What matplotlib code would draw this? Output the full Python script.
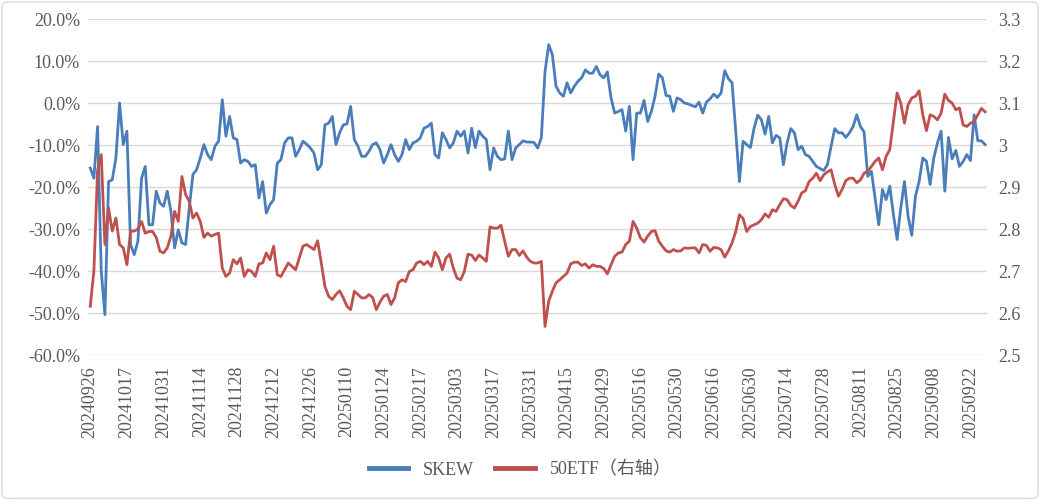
import numpy as np
import matplotlib
matplotlib.use("Agg")
import matplotlib.pyplot as plt
from matplotlib.ticker import FixedLocator, FuncFormatter
from matplotlib.patches import FancyBboxPatch

# tick labels (every 10 trading days)
date_labels = ["20240926", "20241017", "20241031", "20241114", "20241128",
               "20241212", "20241226", "20250110", "20250124", "20250217",
               "20250303", "20250317", "20250331", "20250415", "20250429",
               "20250516", "20250530", "20250616", "20250630", "20250714",
               "20250728", "20250811", "20250825", "20250908", "20250922"]

# SKEW, percent, one value per trading day
skew = [
    -15.5, -17.9, -5.6, -40.0, -50.4, -18.7, -18.3, -13.1, 0.0, -9.9,
    -6.7, -33.7, -36.1, -32.9, -17.9, -15.1, -29.0, -29.0, -21.0, -23.8,
    -24.6, -21.0, -25.8, -34.5, -30.2, -33.3, -33.7, -25.0, -17.0, -15.9,
    -13.1, -9.9, -12.3, -13.5, -10.3, -9.1, 0.8, -7.9, -3.2, -8.3,
    -8.7, -14.3, -13.5, -13.9, -15.1, -14.7, -22.6, -18.7, -26.2, -24.2,
    -23.0, -14.3, -13.5, -9.5, -8.3, -8.3, -12.7, -11.1, -9.1, -9.8,
    -10.7, -11.9, -15.9, -14.7, -5.2, -4.8, -3.2, -9.9, -7.1, -5.2,
    -5.0, -0.8, -8.7, -10.3, -12.7, -12.7, -11.5, -9.9, -9.5, -11.1,
    -14.3, -12.3, -9.9, -12.3, -13.9, -12.3, -8.7, -11.1, -9.5, -9.1,
    -8.3, -6.0, -5.6, -4.8, -12.3, -13.1, -7.1, -8.7, -10.7, -9.5,
    -6.7, -7.9, -6.7, -11.9, -6.0, -10.6, -6.7, -7.9, -8.7, -15.9,
    -10.7, -12.7, -13.5, -13.3, -6.7, -13.5, -10.7, -9.9, -9.0, -9.3,
    -9.3, -9.4, -10.7, -8.3, 7.5, 13.9, 11.5, 4.0, 2.4, 1.6,
    4.8, 2.4, 4.0, 5.2, 6.0, 7.9, 7.1, 7.1, 8.7, 6.7,
    6.0, 7.4, 1.2, -2.4, -2.0, -1.6, -6.7, -0.8, -13.5, -2.4,
    -2.4, 0.6, -4.4, -2.0, 1.6, 6.9, 6.0, 1.8, 1.6, -2.0,
    1.2, 0.8, 0.0, -0.2, -0.6, -0.9, 0.2, -2.4, 0.2, 1.0,
    2.1, 1.3, 2.4, 7.7, 5.8, 4.8, -6.7, -18.7, -9.1, -9.9,
    -10.6, -6.0, -2.9, -4.0, -7.4, -3.2, -9.5, -7.7, -8.3, -14.7,
    -9.5, -6.1, -7.1, -11.1, -10.3, -12.3, -12.7, -13.9, -15.1, -15.6,
    -16.1, -14.7, -10.3, -6.1, -7.1, -7.1, -8.2, -7.1, -5.6, -2.8,
    -5.6, -6.9, -17.5, -16.3, -22.6, -29.0, -20.6, -23.0, -19.8, -26.6,
    -32.5, -25.0, -18.7, -27.0, -31.5, -22.2, -18.7, -13.1, -13.9, -19.4,
    -13.1, -9.5, -6.7, -21.0, -8.2, -13.3, -11.3, -15.1, -13.9, -12.3,
    -13.7, -2.8, -9.0, -9.0, -9.9,
]

# 50ETF close (right axis)
etf = [
    2.616, 2.700, 2.940, 2.977, 2.763, 2.850, 2.795, 2.826, 2.763, 2.755,
    2.715, 2.795, 2.795, 2.800, 2.818, 2.790, 2.794, 2.794, 2.780, 2.747,
    2.743, 2.755, 2.783, 2.842, 2.818, 2.925, 2.882, 2.866, 2.826, 2.838,
    2.818, 2.780, 2.790, 2.783, 2.787, 2.790, 2.707, 2.687, 2.695, 2.727,
    2.717, 2.731, 2.687, 2.703, 2.699, 2.687, 2.717, 2.719, 2.743, 2.727,
    2.759, 2.691, 2.687, 2.703, 2.719, 2.711, 2.703, 2.731, 2.759, 2.763,
    2.757, 2.751, 2.772, 2.719, 2.663, 2.640, 2.632, 2.644, 2.653, 2.636,
    2.616, 2.608, 2.652, 2.644, 2.636, 2.636, 2.644, 2.637, 2.608, 2.626,
    2.640, 2.644, 2.620, 2.636, 2.672, 2.679, 2.675, 2.699, 2.703, 2.719,
    2.723, 2.715, 2.723, 2.711, 2.745, 2.731, 2.703, 2.731, 2.740, 2.707,
    2.683, 2.679, 2.699, 2.740, 2.738, 2.725, 2.738, 2.731, 2.723, 2.805,
    2.802, 2.802, 2.809, 2.771, 2.735, 2.751, 2.751, 2.737, 2.748, 2.733,
    2.723, 2.719, 2.719, 2.723, 2.568, 2.628, 2.652, 2.672, 2.679, 2.687,
    2.695, 2.717, 2.721, 2.721, 2.713, 2.717, 2.707, 2.715, 2.711, 2.711,
    2.706, 2.693, 2.715, 2.735, 2.743, 2.745, 2.763, 2.771, 2.818, 2.802,
    2.779, 2.769, 2.783, 2.794, 2.796, 2.771, 2.759, 2.748, 2.745, 2.751,
    2.747, 2.748, 2.755, 2.754, 2.755, 2.755, 2.743, 2.763, 2.761, 2.747,
    2.756, 2.755, 2.751, 2.733, 2.748, 2.767, 2.794, 2.834, 2.825, 2.794,
    2.806, 2.810, 2.814, 2.822, 2.836, 2.828, 2.846, 2.842, 2.858, 2.872,
    2.870, 2.856, 2.850, 2.866, 2.886, 2.891, 2.913, 2.921, 2.933, 2.915,
    2.929, 2.936, 2.941, 2.906, 2.878, 2.894, 2.915, 2.921, 2.921, 2.910,
    2.917, 2.933, 2.937, 2.949, 2.961, 2.969, 2.941, 2.973, 2.989, 3.056,
    3.124, 3.100, 3.052, 3.096, 3.112, 3.116, 3.129, 3.072, 3.034, 3.072,
    3.068, 3.060, 3.076, 3.121, 3.106, 3.100, 3.084, 3.088, 3.048, 3.044,
    3.052, 3.056, 3.072, 3.087, 3.079,
]

blue = "#4A7EBB"
red = "#C0504D"
grey_txt = "#595959"
serif = ["Liberation Serif", "Noto Sans CJK SC"]


def pct_fmt(v, pos):
    v = round(v * 100, 1)
    if v == 0:
        v = 0.0
    return f"{v:.1f}%"


x = np.arange(len(skew))
skew_frac = np.array(skew) / 100.0

fig = plt.figure(figsize=(10.4, 5.0), dpi=100)
fig.patches.append(FancyBboxPatch((0.002, 0.003), 0.996, 0.993,
                                  boxstyle="round,pad=0,rounding_size=0.008",
                                  transform=fig.transFigure, fill=False,
                                  edgecolor="#d9d9d9", linewidth=1.0))
ax = fig.add_axes([0.085, 0.29, 0.864, 0.672])
ax2 = ax.twinx()

ax.plot(x, skew_frac, color=blue, lw=2.0, label="SKEW", zorder=3)
ax2.plot(x, etf, color=red, lw=2.0, label="50ETF（右轴）", zorder=3)

ax.set_ylim(-0.6, 0.2)
ax.set_yticks(np.arange(-0.6, 0.21, 0.1))
ax.yaxis.set_major_formatter(FuncFormatter(pct_fmt))
ax2.set_ylim(2.5, 3.3)
ax2.set_yticks(np.arange(2.5, 3.31, 0.1))
ax2.yaxis.set_major_formatter(FuncFormatter(lambda v, p: f"{round(v, 1):g}"))

ax.set_xlim(-0.5, len(skew) - 0.5)
ax.xaxis.set_major_locator(FixedLocator(np.arange(0, 10 * len(date_labels), 10)))
ax.set_xticklabels(date_labels, rotation=90, family=serif, fontsize=12.5, color=grey_txt)

ax.grid(axis="y", color="#d9d9d9", lw=1.0)
ax.set_axisbelow(True)
for a in (ax, ax2):
    for s in a.spines.values():
        s.set_visible(False)
    a.tick_params(length=0, labelsize=13, labelcolor=grey_txt)
    for lab in a.get_yticklabels():
        lab.set_family(serif)
ax.tick_params(axis="y", pad=6)
ax2.tick_params(axis="y", pad=8)
ax.tick_params(axis="x", pad=8)

h1, l1 = ax.get_legend_handles_labels()
h2, l2 = ax2.get_legend_handles_labels()
leg = fig.legend(h1 + h2, l1 + l2, loc="center", bbox_to_anchor=(0.5, 0.06),
                 ncol=2, frameon=False, handlelength=2.2, columnspacing=1.2,
                 prop={"family": serif, "size": 13})
for t in leg.get_texts():
    t.set_color(grey_txt)
for lh in leg.get_lines():
    lh.set_linewidth(3.5)

fig.savefig("out.png", dpi=100)
